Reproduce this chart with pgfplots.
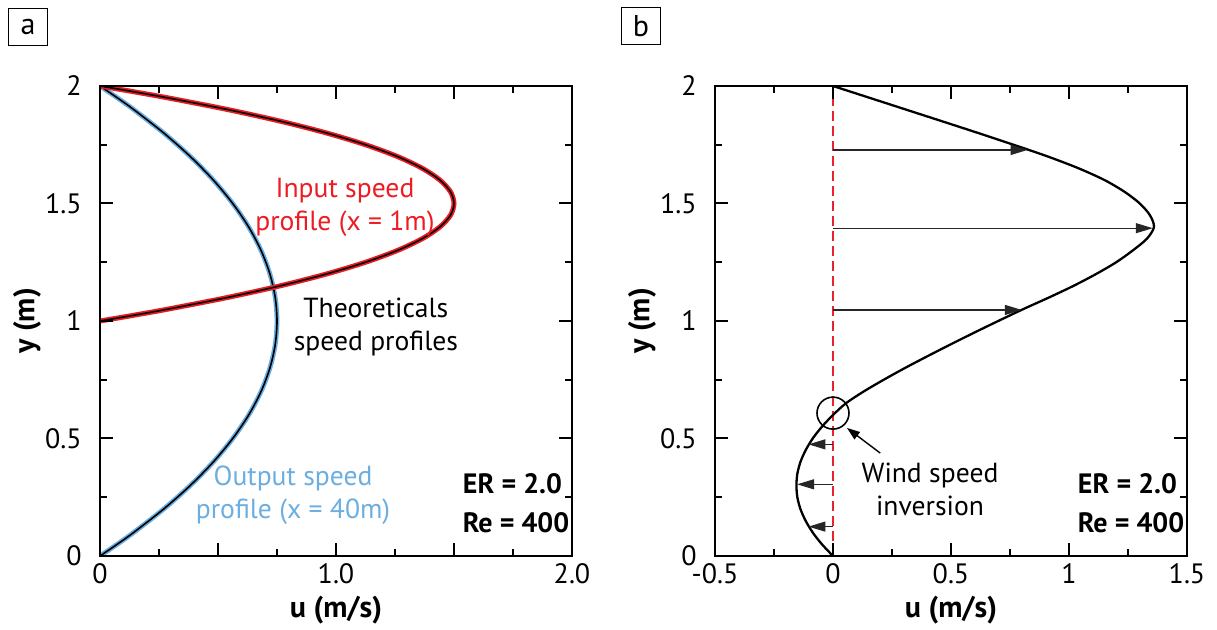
\documentclass[border=0pt]{standalone}
\usepackage{fontspec}
\setmainfont{PT Sans}
\usepackage{pgfplots}
\pgfplotsset{compat=1.18}
\usetikzlibrary{arrows.meta}
\definecolor{inred}{HTML}{ED1C24}
\definecolor{outblue}{HTML}{6CAEE0}
\definecolor{dashred}{HTML}{E8232B}
\pgfplotsset{panel/.style={
  scale only axis, width=236pt, height=235pt, anchor=north west,
  axis line style={line width=1pt}, tick style={black, line width=1pt},
  major tick length=6.5pt, minor tick length=3.5pt, tick align=inside,
  minor x tick num=1, minor y tick num=1,
  tick label style={font=\fontsize{14}{16}\selectfont},
  /pgf/number format/assume math mode=true,
  x tick label style={inner sep=0pt, yshift=-3.5pt},
  y tick label style={inner sep=0pt, xshift=-9pt},
  label style={font=\bfseries\fontsize{15}{18}\selectfont},
  xlabel style={at={([yshift=-27pt]axis description cs:0.5,0)}, anchor=center},
  ylabel style={at={([xshift=-36.5pt]axis description cs:0,0.5)}, anchor=center},
  ymin=0, ymax=2, ytick={0,0.5,1,1.5,2}, yticklabels={0,0.5,1,1.5,2},
  xlabel={u (m/s)}, ylabel={y (m)}, axis on top}}
\begin{document}
\begin{tikzpicture}
\path[use as bounding box] (0,0) rectangle (608.5pt,-315pt);
\node[draw, line width=0.8pt, minimum width=19.5pt, minimum height=18.5pt, inner sep=0pt, font=\fontsize{15}{18}\selectfont] at (14pt,-13.5pt) {a};
\node[draw, line width=0.8pt, minimum width=19.5pt, minimum height=18.5pt, inner sep=0pt, font=\fontsize{15}{18}\selectfont] at (320.5pt,-13pt) {b};

\begin{axis}[panel, at={(50pt,-43pt)}, xmin=0, xmax=2,
  xtick={0,0.5,1,1.5,2}, xticklabels={0,,1.0,,2.0}]
\addplot[outblue, line width=2.4pt, smooth] coordinates {(0,0) (0.0731,0.05) (0.1425,0.1) (0.27,0.2) (0.3825,0.3) (0.48,0.4) (0.5625,0.5) (0.63,0.6) (0.6825,0.7) (0.72,0.8) (0.7425,0.9) (0.75,1.0) (0.7425,1.1) (0.72,1.2) (0.6825,1.3) (0.63,1.4) (0.5625,1.5) (0.48,1.6) (0.3825,1.7) (0.27,1.8) (0.1425,1.9) (0.0731,1.95) (0,2)};
\addplot[black, line width=0.8pt, smooth] coordinates {(0,0) (0.0731,0.05) (0.1425,0.1) (0.27,0.2) (0.3825,0.3) (0.48,0.4) (0.5625,0.5) (0.63,0.6) (0.6825,0.7) (0.72,0.8) (0.7425,0.9) (0.75,1.0) (0.7425,1.1) (0.72,1.2) (0.6825,1.3) (0.63,1.4) (0.5625,1.5) (0.48,1.6) (0.3825,1.7) (0.27,1.8) (0.1425,1.9) (0.0731,1.95) (0,2)};
\addplot[inred, line width=2.5pt, smooth] coordinates {(0,1) (0.0741,1.0125) (0.14625,1.025) (0.285,1.05) (0.54,1.1) (0.765,1.15) (0.96,1.2) (1.125,1.25) (1.26,1.3) (1.365,1.35) (1.44,1.4) (1.485,1.45) (1.5,1.5) (1.485,1.55) (1.44,1.6) (1.365,1.65) (1.26,1.7) (1.125,1.75) (0.96,1.8) (0.765,1.85) (0.54,1.9) (0.285,1.95) (0.14625,1.975) (0.0741,1.9875) (0,2)};
\addplot[black, line width=0.8pt, smooth] coordinates {(0,1) (0.0741,1.0125) (0.14625,1.025) (0.285,1.05) (0.54,1.1) (0.765,1.15) (0.96,1.2) (1.125,1.25) (1.26,1.3) (1.365,1.35) (1.44,1.4) (1.485,1.45) (1.5,1.5) (1.485,1.55) (1.44,1.6) (1.365,1.65) (1.26,1.7) (1.125,1.75) (0.96,1.8) (0.765,1.85) (0.54,1.9) (0.285,1.95) (0.14625,1.975) (0.0741,1.9875) (0,2)};
\node[inred, align=center, font=\fontsize{13.8}{16.5}\selectfont] at (axis cs:1.038,1.485) {Input speed\\profile (x = 1m)};
\node[align=center, font=\fontsize{13.8}{16.5}\selectfont] at (axis cs:1.169,0.974) {Theoreticals\\speed profiles};
\node[outblue, align=center, font=\fontsize{13.8}{16.5}\selectfont] at (axis cs:0.818,0.26) {Output speed\\profile (x = 40m)};
\node[anchor=west, align=left, font=\bfseries\fontsize{14}{19.5}\selectfont] at (axis cs:1.508,0.223) {ER = 2.0\\Re = 400};
\end{axis}

\begin{axis}[panel, at={(357.5pt,-43pt)}, xmin=-0.5, xmax=1.5,
  xtick={-0.5,0,0.5,1,1.5}, xticklabels={-0.5,0,0.5,1,1.5}]
\addplot[dashred, line width=1pt, dash pattern=on 5pt off 2.5pt] coordinates {(0,0) (0,2)};
\addplot[black, line width=1.15pt, smooth] coordinates {(0,0) (-0.047,0.05) (-0.086,0.1) (-0.116,0.15) (-0.138,0.2) (-0.151,0.25) (-0.155,0.3) (-0.151,0.35) (-0.138,0.4) (-0.116,0.45) (-0.086,0.5) (-0.047,0.55) (0,0.6) (0.055,0.65) (0.13,0.7) (0.215,0.75) (0.305,0.8) (0.4,0.85) (0.4975,0.9) (0.5975,0.95) (0.70,1.0) (0.805,1.05) (0.915,1.1) (1.02,1.15) (1.115,1.2) (1.20,1.25) (1.27,1.3) (1.33,1.35) (1.36,1.4) (1.343,1.45) (1.30,1.5) (1.235,1.55) (1.15,1.6) (1.04,1.65) (0.91,1.7) (0.765,1.75) (0.615,1.8) (0.462,1.85) (0.308,1.9) (0.154,1.95) (0,2)};
\addplot[black!85, line width=0.6pt, -{Triangle[length=8.5pt,width=5pt]},
  quiver={u=\thisrow{u}, v=\thisrow{v}}] table {
x y u v
0 1.728 0.825 0
0 1.395 1.355 0
0 1.047 0.80 0
0 0.475 -0.104 0
0 0.305 -0.152 0
0 0.125 -0.104 0
};
\draw[line width=0.8pt] (axis cs:0,0.608) circle[radius=8pt];
\draw[line width=0.7pt, -{Triangle[length=6.5pt,width=4.5pt]}] (axis cs:0.2,0.438) -- (axis cs:0.059,0.545);
\node[align=center, font=\fontsize{13.8}{16.5}\selectfont] at (axis cs:0.411,0.285) {Wind speed\\inversion};
\node[anchor=west, align=left, font=\bfseries\fontsize{14}{19.5}\selectfont] at (axis cs:1.008,0.223) {ER = 2.0\\Re = 400};
\end{axis}
\end{tikzpicture}
\end{document}
